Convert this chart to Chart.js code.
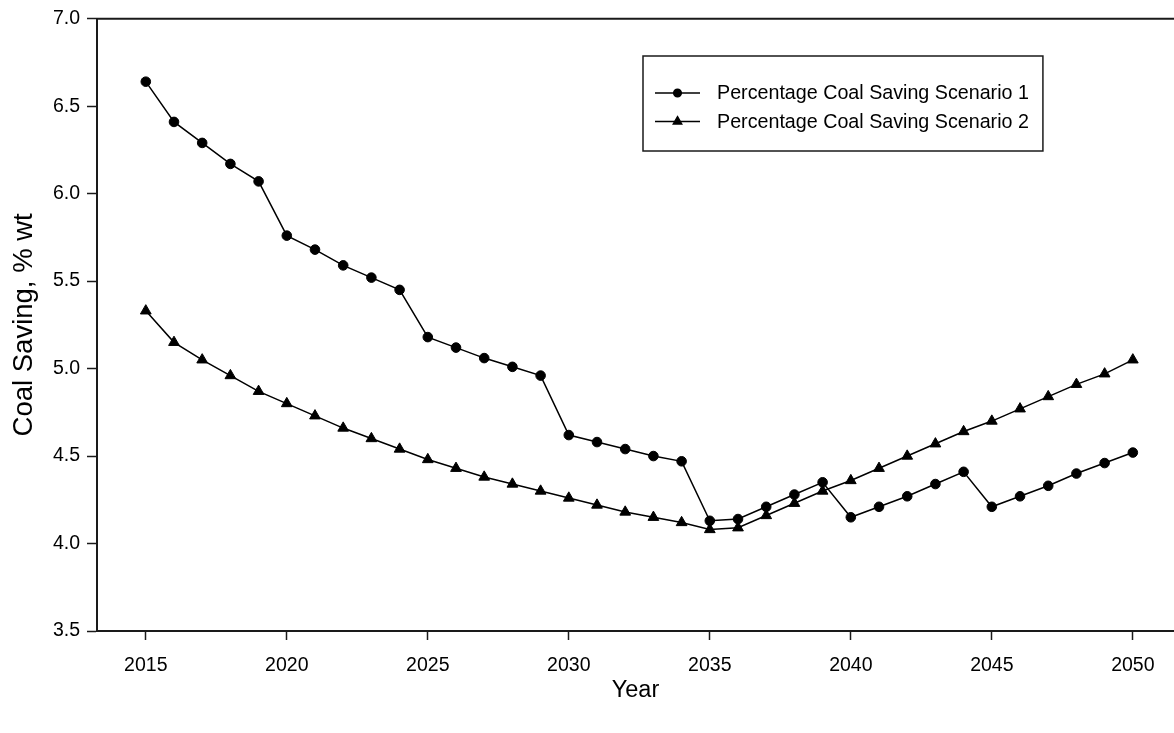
<!DOCTYPE html>
<html>
<head>
<meta charset="utf-8">
<script src="https://cdn.jsdelivr.net/npm/chart.js@4/dist/chart.umd.min.js"></script>
<style>
  html, body { margin: 0; padding: 0; background: #ffffff; }
  #wrap { width: 1174px; height: 733px; position: relative; }
</style>
</head>
<body>
<div id="wrap"><canvas id="chart" width="1174" height="733"></canvas></div>
<script>
// Years on the horizontal axis
const years = [
  2015, 2016, 2017, 2018, 2019, 2020, 2021, 2022, 2023, 2024,
  2025, 2026, 2027, 2028, 2029, 2030, 2031, 2032, 2033, 2034,
  2035, 2036, 2037, 2038, 2039, 2040, 2041, 2042, 2043, 2044,
  2045, 2046, 2047, 2048, 2049, 2050
];

// Percentage coal saving, scenario 1 (circles)
const scenario1 = [
  6.64, 6.41, 6.29, 6.17, 6.07, 5.76, 5.68, 5.59, 5.52, 5.45,
  5.18, 5.12, 5.06, 5.01, 4.96, 4.62, 4.58, 4.54, 4.50, 4.47,
  4.13, 4.14, 4.21, 4.28, 4.35, 4.15, 4.21, 4.27, 4.34, 4.41,
  4.21, 4.27, 4.33, 4.40, 4.46, 4.52
];

// Percentage coal saving, scenario 2 (triangles)
const scenario2 = [
  5.33, 5.15, 5.05, 4.96, 4.87, 4.80, 4.73, 4.66, 4.60, 4.54,
  4.48, 4.43, 4.38, 4.34, 4.30, 4.26, 4.22, 4.18, 4.15, 4.12,
  4.08, 4.09, 4.16, 4.23, 4.30, 4.36, 4.43, 4.50, 4.57, 4.64,
  4.70, 4.77, 4.84, 4.91, 4.97, 5.05
];

const xTicks = [2015, 2020, 2025, 2030, 2035, 2040, 2045, 2050];
const yTicks = [3.5, 4.0, 4.5, 5.0, 5.5, 6.0, 6.5, 7.0];

const seriesLabels = [
  'Percentage Coal Saving Scenario 1',
  'Percentage Coal Saving Scenario 2'
];

const FONT = "'Liberation Sans', Arial, Helvetica, sans-serif";
const INK = '#000000';
const AXIS = '#1a1a1a';

function toPoints(values) {
  return years.map((yr, i) => ({ x: yr, y: values[i] }));
}

// Closes the frame along the top edge of the plot area
const topFrame = {
  id: 'topFrame',
  beforeDatasetsDraw(chart) {
    const { ctx, chartArea: a } = chart;
    ctx.save();
    ctx.strokeStyle = AXIS;
    ctx.lineWidth = 2;
    ctx.beginPath();
    ctx.moveTo(a.left - 1, a.top);
    ctx.lineTo(a.right, a.top);
    ctx.stroke();
    ctx.restore();
  }
};

// Boxed legend placed inside the plot area
const boxedLegend = {
  id: 'boxedLegend',
  afterDraw(chart, args, opts) {
    const { ctx } = chart;
    ctx.save();
    ctx.font = opts.fontSize + 'px ' + FONT;
    let maxW = 0;
    chart.data.datasets.forEach(ds => {
      maxW = Math.max(maxW, ctx.measureText(ds.label).width);
    });
    const right = opts.textX + maxW + opts.padRight;
    ctx.strokeStyle = AXIS;
    ctx.lineWidth = 1.5;
    ctx.strokeRect(opts.left, opts.top, right - opts.left, opts.bottom - opts.top);

    chart.data.datasets.forEach((ds, i) => {
      const y = opts.rows[i];
      ctx.strokeStyle = INK;
      ctx.lineWidth = 1.5;
      ctx.beginPath();
      ctx.moveTo(opts.lineX0, y);
      ctx.lineTo(opts.lineX1, y);
      ctx.stroke();
      const mx = (opts.lineX0 + opts.lineX1) / 2;
      ctx.fillStyle = INK;
      Chart.helpers.drawPoint(ctx, {
        pointStyle: ds.pointStyle,
        radius: opts.markerRadius[i],
        borderWidth: 1
      }, mx, y);
      ctx.fillStyle = INK;
      ctx.textAlign = 'left';
      ctx.textBaseline = 'middle';
      ctx.fillText(ds.label, opts.textX, y + 1);
    });
    ctx.restore();
  }
};

new Chart(document.getElementById('chart'), {
  type: 'line',
  data: {
    datasets: [
      {
        label: seriesLabels[0],
        data: toPoints(scenario1),
        borderColor: INK,
        borderWidth: 1.5,
        backgroundColor: INK,
        pointStyle: 'circle',
        pointRadius: 4.8,
        pointBorderWidth: 1,
        pointBackgroundColor: INK,
        pointBorderColor: INK,
        tension: 0
      },
      {
        label: seriesLabels[1],
        data: toPoints(scenario2),
        borderColor: INK,
        borderWidth: 1.5,
        backgroundColor: INK,
        pointStyle: 'triangle',
        pointRadius: 6.2,
        pointBorderWidth: 1,
        pointBackgroundColor: INK,
        pointBorderColor: INK,
        tension: 0
      }
    ]
  },
  options: {
    responsive: false,
    animation: false,
    devicePixelRatio: 1,
    layout: { autoPadding: false, padding: { top: 16, left: 0, right: 0, bottom: 0 } },
    plugins: {
      legend: { display: false },
      tooltip: { enabled: false },
      boxedLegend: {
        left: 643, top: 56, bottom: 151,
        lineX0: 655, lineX1: 700,
        textX: 717, padRight: 14,
        rows: [93, 121.5],
        fontSize: 19.7,
        markerRadius: [3.8, 4.8]
      }
    },
    scales: {
      x: {
        type: 'linear',
        min: 2013.27,
        max: 2051.46,
        afterBuildTicks: s => { s.ticks = xTicks.map(v => ({ value: v })); },
        afterFit: s => { s.height = 102; },
        ticks: {
          autoSkip: false,
          maxRotation: 0,
          padding: 14,
          color: INK,
          font: { family: FONT, size: 19.5 },
          callback: v => String(v)
        },
        grid: {
          drawOnChartArea: false,
          drawTicks: true,
          tickLength: 9,
          tickWidth: 1.5,
          color: AXIS
        },
        border: { display: true, color: AXIS, width: 2 },
        title: {
          display: true,
          text: 'Year',
          color: INK,
          font: { family: FONT, size: 23.5 },
          padding: { top: 0, bottom: 28 }
        }
      },
      y: {
        type: 'linear',
        min: 3.5,
        max: 7.0,
        afterBuildTicks: s => { s.ticks = yTicks.map(v => ({ value: v })); },
        afterFit: s => { s.width = 97; },
        ticks: {
          padding: 7,
          color: INK,
          font: { family: FONT, size: 19.5 },
          callback: v => Number(v).toFixed(1)
        },
        grid: {
          drawOnChartArea: false,
          drawTicks: true,
          tickLength: 10,
          tickWidth: 1.5,
          color: AXIS
        },
        border: { display: true, color: AXIS, width: 2 },
        title: {
          display: true,
          text: 'Coal Saving, % wt',
          color: INK,
          font: { family: FONT, size: 27.5 },
          padding: { top: 8, bottom: 0 }
        }
      }
    }
  },
  plugins: [topFrame, boxedLegend]
});
</script>
</body>
</html>
